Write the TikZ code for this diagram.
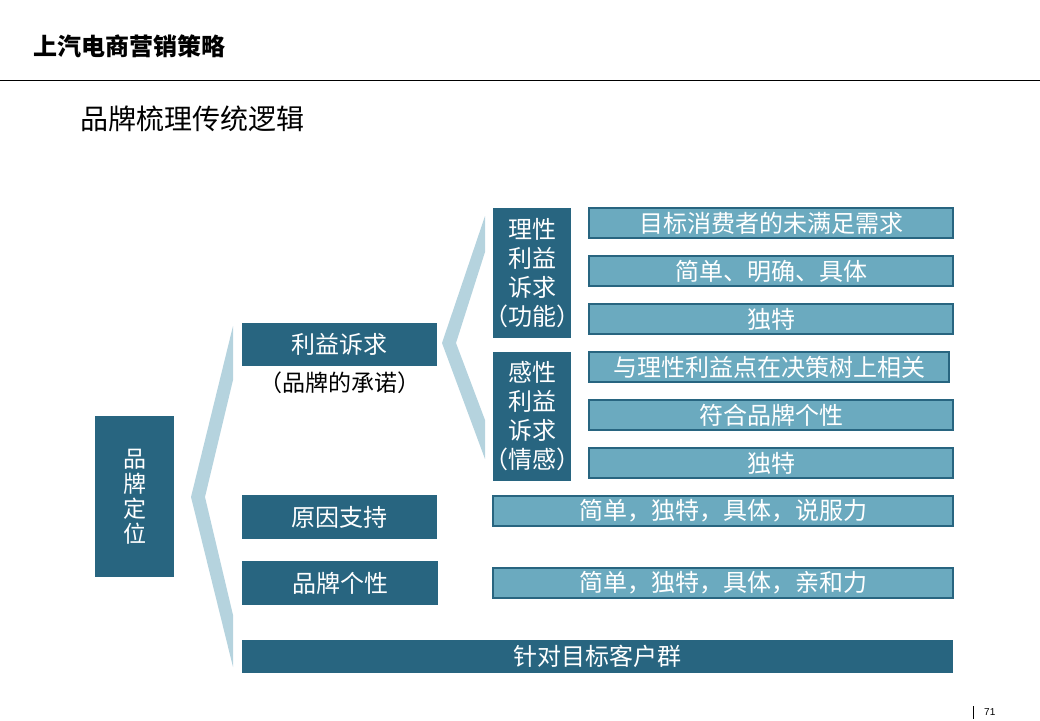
\documentclass[tikz,border=0pt]{standalone}
\usepackage{fontspec}
\setmainfont{Noto Sans CJK SC}
\newfontfamily\latinfont{Liberation Sans}
\definecolor{boxdark}{HTML}{286580}
\definecolor{boxlight}{HTML}{6BAABF}
\definecolor{bracket}{HTML}{B5D3DE}
\newcommand\paren[1]{\makebox[0.55em][r]{（}#1\makebox[0.55em][l]{）}}

\begin{document}
\begin{tikzpicture}
  [x=1pt,y=-1pt,
   darkbox/.style={fill=boxdark,text=white,inner sep=0pt,align=center,
     font=\fontsize{24}{29}\selectfont},
   lightbox/.style={fill=boxlight,draw=boxdark,line width=1.2pt,text=white,
     inner sep=0pt,minimum height=30,font=\fontsize{24}{28}\selectfont}]
  \useasboundingbox (0,0) rectangle (1040,720);

  % header
  \node[font=\fontsize{24}{28}\selectfont\bfseries,anchor=west] (title) at (30,46) {上汽电商营销策略};
  \draw[line width=1pt] (0,80) -- (1040,80);
  \node[font=\fontsize{28}{32}\selectfont,anchor=west] (sub) at (77,119) {品牌梳理传统逻辑};

  % left column
  \node[darkbox,minimum width=79,minimum height=161,font=\fontsize{23}{25}\selectfont] (pos) at (134.5,496.5) {品\\牌\\定\\位};

  % brackets
  \fill[bracket] (233,326) -- (191,497) -- (233,667) -- (233,615) -- (205,497) -- (233,380) -- cycle;
  \fill[bracket] (485,216) -- (442,343) -- (485,459) -- (485,420) -- (456,343) -- (485,252) -- cycle;

  % middle column
  \node[darkbox,minimum width=195,minimum height=43] (benefit) at (339.5,344.5) {利益诉求};
  \node[font=\fontsize{23}{28}\selectfont] (promise) at (340,383) {（品牌的承诺）};
  \node[darkbox,minimum width=195,minimum height=44] (reason) at (339.5,517) {原因支持};
  \node[darkbox,minimum width=196,minimum height=44] (person) at (340,583) {品牌个性};
  \node[darkbox,minimum width=711,minimum height=33] (target) at (597.5,656.5) {针对目标客户群};

  % benefit types
  \node[darkbox,text width=78,minimum height=130] (rational) at (532,273) {理性\\利益\\诉求\\\paren{功能}};
  \node[darkbox,text width=78,minimum height=129] (emotion) at (532,416.5) {感性\\利益\\诉求\\\paren{情感}};

  % criteria
  \node[lightbox,minimum width=364] (r1) at (771,223) {目标消费者的未满足需求};
  \node[lightbox,minimum width=364] (r2) at (771,271) {简单、明确、具体};
  \node[lightbox,minimum width=364] (r3) at (771,319) {独特};
  \node[lightbox,minimum width=360] (e1) at (769,367) {与理性利益点在决策树上相关};
  \node[lightbox,minimum width=364] (e2) at (771,415) {符合品牌个性};
  \node[lightbox,minimum width=364] (e3) at (771,463) {独特};
  \node[lightbox,minimum width=460] (c1) at (723,511) {简单，独特，具体，说服力};
  \node[lightbox,minimum width=460] (c2) at (723,583) {简单，独特，具体，亲和力};

  % page number
  \draw[line width=0.8pt] (973,706) -- (973,719);
  \node[font=\latinfont\fontsize{10}{12}\selectfont,anchor=west,inner sep=0pt] (page) at (984,712) {71};
\end{tikzpicture}
\end{document}
